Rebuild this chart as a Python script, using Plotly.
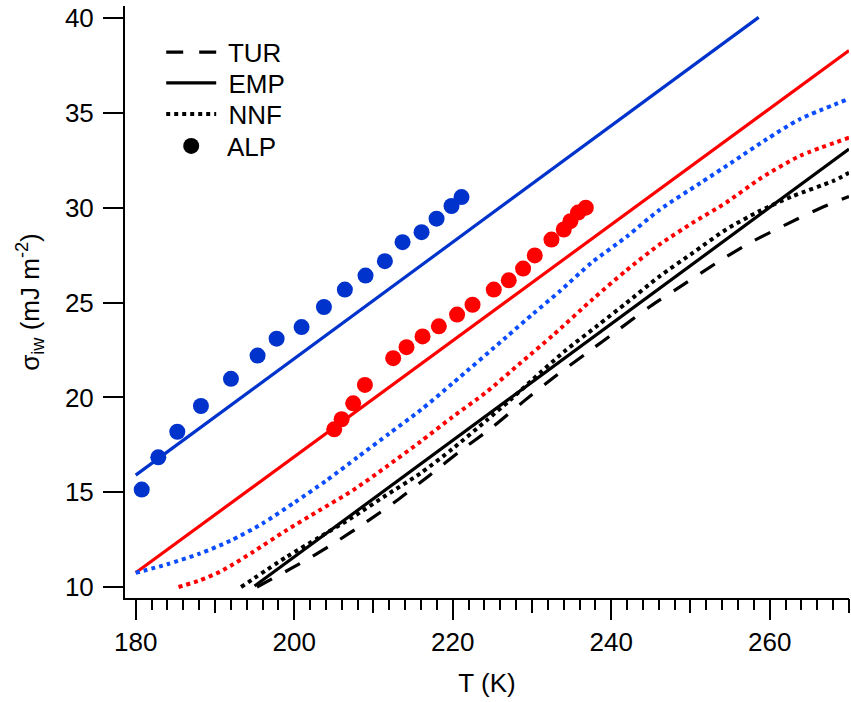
import plotly.graph_objects as go

# ---------------- data ----------------
# EMP (linear) – endpoints
emp_blue_T = [180.0, 258.6]
emp_blue_s = [15.9, 40.05]
emp_red_T = [180.0, 270.0]
emp_red_s = [10.75, 38.3]
emp_blk_T = [195.0, 270.0]
emp_blk_s = [10.05, 33.1]

# NNF (dotted)
nnf_blue_T = [180.0, 184.0, 188.0, 192.0, 196.0, 200.0, 204.0, 208.0, 212.0, 216.0, 220.0,
              226.8, 230.1, 233.5, 237.5, 242.0, 246.1, 251.2, 255.4, 259.6, 263.8, 270.0]
nnf_blue_s = [10.75, 11.2, 11.75, 12.45, 13.35, 14.45, 15.6, 16.85, 18.1, 19.35, 20.75,
              23.2, 24.4, 25.6, 27.1, 28.5, 29.9, 31.3, 32.45, 33.62, 34.68, 35.75]
nnf_red_T = [185.4, 188.1, 190.6, 192.3, 194.8, 199.0, 203.2, 207.4, 211.6, 215.9, 220.0,
             224.3, 228.5, 232.7, 237.7, 241.9, 246.1, 250.3, 254.5, 259.0, 263.8, 270.0]
nnf_red_s = [10.0, 10.35, 10.8, 11.2, 11.85, 12.99, 14.05, 15.1, 16.34, 17.66, 18.98,
             20.3, 21.8, 23.3, 25.2, 26.7, 28.07, 29.22, 30.28, 31.6, 32.74, 33.7]
nnf_blk_T = [193.3, 199.0, 203.2, 207.4, 211.6, 215.9, 220.0, 224.3, 227.2, 230.1, 234.3,
             238.3, 241.9, 246.1, 250.3, 254.5, 258.7, 262.9, 268.0, 270.0]
nnf_blk_s = [10.0, 11.58, 12.63, 13.69, 14.84, 15.99, 17.3, 18.8, 19.85, 20.95, 22.5,
             23.8, 24.98, 26.39, 27.63, 28.86, 29.83, 30.62, 31.42, 31.85]

# TUR (dashed)
tur_T = [195.3, 200.7, 204.9, 209.1, 213.3, 217.1, 221.1, 225.1, 228.9, 232.9, 236.9,
         240.9, 244.9, 249.1, 253.3, 257.5, 262.1, 266.5, 270.0]
tur_s = [10.0, 11.23, 12.28, 13.43, 14.67, 15.9, 17.22, 18.46, 19.78, 21.1, 22.34,
         23.57, 24.8, 25.95, 27.1, 28.16, 29.13, 30.01, 30.6]

# ALP (dots)
alp_blue_T = [180.76, 182.85, 185.25, 188.23, 192.02, 195.38, 197.78, 200.93, 203.75, 206.39,
              209.0, 211.44, 213.67, 216.07, 217.96, 219.85, 221.11]
alp_blue_s = [15.14, 16.84, 18.19, 19.55, 20.98, 22.21, 23.1, 23.71, 24.77, 25.69,
              26.43, 27.19, 28.19, 28.72, 29.43, 30.1, 30.57]
alp_red_T = [205.05, 205.98, 207.44, 208.92, 212.49, 214.17, 216.19, 218.25, 220.55, 222.5,
             225.18, 227.07, 228.88, 230.35, 232.46, 234.01, 234.85, 235.81, 236.79]
alp_red_s = [18.32, 18.85, 19.69, 20.66, 22.07, 22.65, 23.22, 23.75, 24.37, 24.89,
             25.69, 26.18, 26.8, 27.49, 28.33, 28.86, 29.3, 29.75, 30.01]

legend_names = ["TUR", "EMP", "NNF", "ALP"]

# ---------------- style ----------------
BLUE = "#0033cc"
BLUE_DOT = "#0a4cff"
RED = "#ff0000"
BLACK = "#000000"
DASH = "17px,15px"
DOT = "4px,4px"
FONT = "Liberation Sans, Arial, sans-serif"

fig = go.Figure()

def line(T, s, color, dash, width=3.2, shape="linear"):
    fig.add_trace(go.Scatter(x=T, y=s, mode="lines", showlegend=False,
                             line=dict(color=color, width=width, dash=dash,
                                       shape=shape, smoothing=0.7)))

line(emp_blue_T, emp_blue_s, BLUE, "solid")
line(emp_red_T, emp_red_s, RED, "solid")
line(emp_blk_T, emp_blk_s, BLACK, "solid")
line(nnf_blue_T, nnf_blue_s, BLUE_DOT, DOT, 4, "spline")
line(nnf_red_T, nnf_red_s, RED, DOT, 4, "spline")
line(nnf_blk_T, nnf_blk_s, BLACK, DOT, 4, "spline")
line(tur_T, tur_s, BLACK, DASH, 3.2, "spline")

fig.add_trace(go.Scatter(x=alp_blue_T, y=alp_blue_s, mode="markers", showlegend=False,
                         marker=dict(color=BLUE, size=16, line=dict(width=0))))
fig.add_trace(go.Scatter(x=alp_red_T, y=alp_red_s, mode="markers", showlegend=False,
                         marker=dict(color=RED, size=16, line=dict(width=0))))

# legend-only entries (black), each in its own legend for exact row placement
leg_styles = [dict(mode="lines", line=dict(color=BLACK, width=3.2, dash="17px,16px")),
              dict(mode="lines", line=dict(color=BLACK, width=3.2, dash="solid")),
              dict(mode="lines", line=dict(color=BLACK, width=4, dash=DOT)),
              dict(mode="markers", marker=dict(color=BLACK, size=16))]
leg_ids = ["legend", "legend2", "legend3", "legend4"]
leg_y = [0.922, 0.870, 0.8176, 0.7635]
for name, st, lid in zip(legend_names, leg_styles, leg_ids):
    fig.add_trace(go.Scatter(x=[None], y=[None], name=" " + name, showlegend=True,
                             legend=lid, **st))

axis_common = dict(showline=True, linecolor=BLACK, linewidth=2, ticks="outside",
                   tickcolor=BLACK, tickwidth=2, ticklen=20, showgrid=False,
                   zeroline=False, automargin=False,
                   tickfont=dict(family=FONT, size=26, color=BLACK))

layout_legends = {}
for lid, ly in zip(leg_ids, leg_y):
    layout_legends[lid] = dict(x=0.05, y=ly, xanchor="left", yanchor="middle",
                               bgcolor="rgba(0,0,0,0)",
                               font=dict(family=FONT, size=26, color=BLACK),
                               itemwidth=50)

fig.update_layout(
    width=851, height=702,
    margin=dict(l=125, r=2, t=6, b=104, autoexpand=False),
    paper_bgcolor="white", plot_bgcolor="white",
    font=dict(family=FONT, color=BLACK),
    xaxis=dict(range=[178.65, 270.0], tick0=180, dtick=20, ticklabelstandoff=0,
               minor=dict(dtick=2, tick0=180, ticklen=10, tickwidth=2, tickcolor=BLACK,
                          ticks="outside", showgrid=False),
               title=dict(text="T (K)", font=dict(family=FONT, size=26), standoff=18),
               **axis_common),
    xaxis2=dict(range=[178.65, 270.0], overlaying="x", side="bottom", anchor="y",
                tick0=180, dtick=10, ticks="outside", ticklen=14, tickwidth=2,
                tickcolor=BLACK, showticklabels=False, showgrid=False, zeroline=False,
                showline=False, automargin=False),
    yaxis=dict(range=[9.42, 40.65], tick0=10, dtick=5, ticklabelstandoff=4,
               title=dict(text="σ<sub>iw</sub> (mJ m<sup>-2</sup>)",
                          font=dict(family=FONT, size=26), standoff=18),
               **axis_common),
    **layout_legends,
)
# dummy trace so the medium-tick axis is drawn
fig.add_trace(go.Scatter(x=[None], y=[None], xaxis="x2", showlegend=False))

fig.write_html("out.html", config={"displayModeBar": False},
               post_script="document.body.style.margin='0';document.body.style.overflow='hidden';")
